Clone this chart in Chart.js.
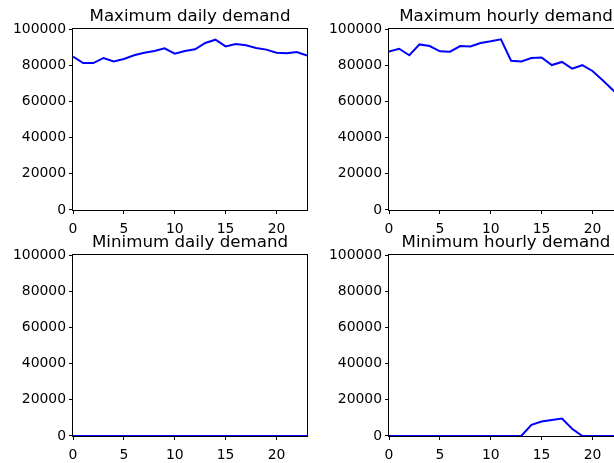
<!DOCTYPE html>
<html>
<head>
<meta charset="utf-8">
<script src="https://cdn.jsdelivr.net/npm/chart.js@4"></script>
<style>
  html, body { margin: 0; padding: 0; background: #fff; overflow: hidden; }
  #fig { position: relative; width: 614px; height: 463px; overflow: hidden; background: #fff; }
  #fig canvas { position: absolute; }
</style>
</head>
<body>
<div id="fig">
  <canvas id="maxDaily"  width="320" height="236" style="left:0;top:0"></canvas>
  <canvas id="maxHourly" width="320" height="236" style="left:316px;top:0"></canvas>
  <canvas id="minDaily"  width="320" height="236" style="left:0;top:226px"></canvas>
  <canvas id="minHourly" width="320" height="236" style="left:316px;top:226px"></canvas>
</div>
<script>
  // ── Data ────────────────────────────────────────────────────────────────
  var hours = [0, 1, 2, 3, 4, 5, 6, 7, 8, 9, 10, 11, 12, 13, 14, 15, 16, 17, 18, 19, 20, 21, 22, 23];

  var maxDaily = [84700, 81200, 81200, 84000, 82100, 83400, 85500, 86900, 87800, 89300, 86400, 87800,
                  88800, 92300, 94100, 90400, 91700, 91000, 89500, 88600, 86900, 86600, 87300, 85300];

  var maxHourly = [87500, 89100, 85500, 91500, 90600, 87700, 87500, 90600, 90400, 92300, 93200, 94300,
                   82500, 82100, 84000, 84300, 80100, 81800, 78100, 80000, 76800, 71700, 66300, 61000];

  var minDaily = [0, 0, 0, 0, 0, 0, 0, 0, 0, 0, 0, 0, 0, 0, 0, 0, 0, 0, 0, 0, 0, 0, 0, 0];

  var minHourly = [0, 0, 0, 0, 0, 0, 0, 0, 0, 0, 0, 0, 0, 0, 6200, 8000, 8900, 9600, 4000, 0, 0, 0, 0, 0];

  var xTicks = [0, 5, 10, 15, 20];
  var yTicks = [0, 20000, 40000, 60000, 80000, 100000];

  // ── Helpers ─────────────────────────────────────────────────────────────
  var FONT = 'DejaVu Sans';

  // matplotlib-style box round the axes
  var framePlugin = {
    id: 'frame',
    afterDatasetsDraw: function (chart) {
      var a = chart.chartArea, c = chart.ctx;
      c.save();
      c.strokeStyle = '#000';
      c.lineWidth = 1;
      c.strokeRect(a.left - 0.5, a.top - 0.5, a.right - a.left + 1, a.bottom - a.top + 1);
      c.restore();
    }
  };

  function makeChart(id, title, values) {
    return new Chart(document.getElementById(id), {
      type: 'line',
      data: {
        datasets: [{
          data: hours.map(function (h, i) { return { x: h, y: values[i] }; }),
          borderColor: '#0000ff',
          borderWidth: 2,
          pointRadius: 0,
          tension: 0,
          fill: false
        }]
      },
      options: {
        responsive: false,
        animation: false,
        events: [],
        layout: { padding: { left: 13, right: 13, top: 1, bottom: 0 } },
        plugins: {
          legend: { display: false },
          tooltip: { enabled: false },
          title: {
            display: true, text: title, fullSize: false, color: '#000',
            font: { family: FONT, size: 16.67, weight: 'normal', lineHeight: 1.2 },
            padding: { top: 5.5, bottom: 2.5 }
          }
        },
        scales: {
          x: {
            type: 'linear', min: 0, max: 23,
            afterBuildTicks: function (s) { s.ticks = xTicks.map(function (v) { return { value: v }; }); },
            afterFit: function (s) { s.height = 26; },
            grid: { drawOnChartArea: false, tickLength: 4, tickColor: '#000' },
            border: { display: false },
            ticks: { color: '#000', font: { family: FONT, size: 13.9 }, padding: 7, maxRotation: 0, autoSkip: false }
          },
          y: {
            min: 0, max: 100000,
            afterBuildTicks: function (s) { s.ticks = yTicks.map(function (v) { return { value: v }; }); },
            afterFit: function (s) { s.width = 60; },
            grid: { drawOnChartArea: false, tickLength: 4, tickColor: '#000' },
            border: { display: false },
            ticks: {
              color: '#000', font: { family: FONT, size: 13.9 }, padding: 3,
              callback: function (v) { return String(v); }
            }
          }
        }
      },
      plugins: [framePlugin]
    });
  }

  // ── Charts ──────────────────────────────────────────────────────────────
  makeChart('maxDaily',  'Maximum daily demand',  maxDaily);
  makeChart('maxHourly', 'Maximum hourly demand', maxHourly);
  makeChart('minDaily',  'Minimum daily demand',  minDaily);
  makeChart('minHourly', 'Minimum hourly demand', minHourly);
</script>
</body>
</html>
